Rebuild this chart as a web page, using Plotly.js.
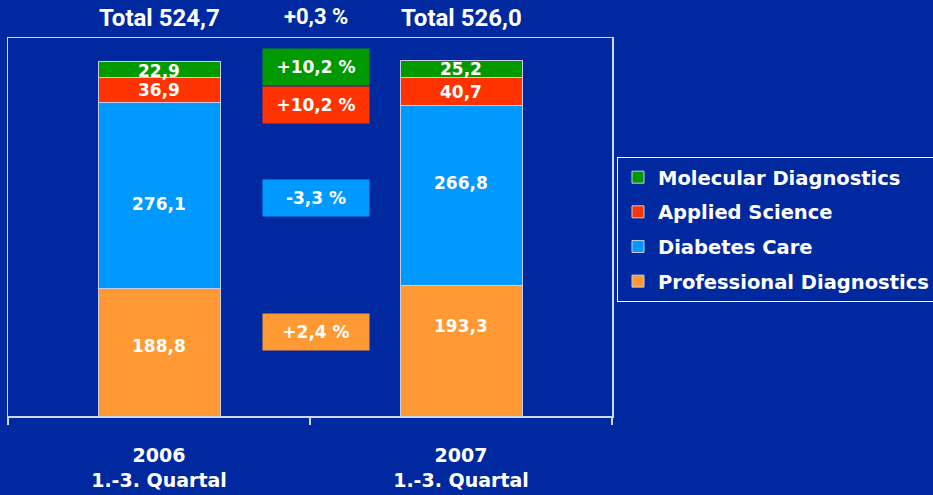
<!DOCTYPE html>
<html>
<head>
<meta charset="utf-8">
<script src="https://cdn.plot.ly/plotly-3.0.1.min.js"></script>
<style>html,body{margin:0;padding:0;background:#0029A0;}#chart{width:933px;height:495px;}</style>
</head>
<body>
<div id="chart"></div>
<script>
// Data
const categories = ['2006', '2007'];
const tickLabels = ['2006<br>1.-3. Quartal', '2007<br>1.-3. Quartal'];
const professionalDiagnostics = [188.8, 193.3];
const diabetesCare = [276.1, 266.8];
const appliedScience = [36.9, 40.7];
const molecularDiagnostics = [22.9, 25.2];
const seriesNames = ['Professional Diagnostics', 'Diabetes Care', 'Applied Science', 'Molecular Diagnostics'];
const seriesColors = ['#FF9933', '#0099FF', '#FF3300', '#009900'];
const changeLabels = ['+2,4 %', '-3,3 %', '+10,2 %', '+10,2 %'];
const totalChangeLabel = '+0,3 %';

const seriesValues = [professionalDiagnostics, diabetesCare, appliedScience, molecularDiagnostics];
const fmt = v => v.toFixed(1).replace('.', ',');
const totals = categories.map((c, i) => seriesValues.reduce((s, arr) => s + arr[i], 0));

const traces = seriesValues.map((vals, k) => ({
  type: 'bar',
  x: categories,
  y: vals,
  name: seriesNames[k],
  legendgroup: 'g' + k,
  legendrank: 10 - k,
  marker: {color: seriesColors[k], line: {color: '#C8CCE8', width: 1}},
  width: 0.404,
  textposition: 'none',
  hoverinfo: 'skip'
}));

const annotations = [];
// value labels inside segments (position from stacked data, small pixel nudges as in the original slide)
const labelShift = [[6, 25], [-9, 12], [0, 0], [-1.5, 0]];
categories.forEach((c, i) => {
  let base = 0;
  seriesValues.forEach((vals, k) => {
    annotations.push({
      xref: 'x', yref: 'y', x: i, y: base + vals[i] / 2, yshift: labelShift[k][i],
      xanchor: 'center', yanchor: 'middle', text: fmt(vals[i]), showarrow: false,
      font: {family: 'DejaVu Sans', size: 17, color: '#FFFFFF', weight: 'bold'}
    });
    base += vals[i];
  });
});

// change boxes
const boxY = [124, 323, 461, 517];
changeLabels.forEach((t, k) => {
  annotations.push({
    xref: 'paper', yref: 'y', x: 0.51, y: boxY[k], xanchor: 'center', yanchor: 'middle',
    text: t, showarrow: false,
    bgcolor: seriesColors[k], width: 106, height: 36, borderpad: 0,
    font: {family: 'DejaVu Sans', size: 17, color: '#FFFFFF', weight: 'bold'}
  });
});
categories.forEach((c, i) => {
  annotations.push({
    xref: 'x', yref: 'paper', x: i, y: 1.053, xanchor: 'center', yanchor: 'middle',
    text: 'Total ' + fmt(totals[i]), showarrow: false,
    font: {family: 'Roboto', size: 24, color: '#FFFFFF', weight: 'bold'}
  });
});
annotations.push({
  xref: 'paper', yref: 'paper', x: 0.51, y: 1.058, xanchor: 'center', yanchor: 'middle',
  text: totalChangeLabel, showarrow: false,
  font: {family: 'Roboto', size: 22, color: '#FFFFFF', weight: 'bold'}
});

const layout = {
  width: 933, height: 495,
  margin: {l: 8, r: 321, t: 38, b: 79},
  paper_bgcolor: '#0029A0', plot_bgcolor: '#0029A0',
  barmode: 'stack',
  separators: ',.',
  showlegend: true,
  legend: {
    xref: 'container', yref: 'container', x: 617 / 933, y: 1 - 157 / 495,
    xanchor: 'left', yanchor: 'top',
    traceorder: 'grouped', tracegroupgap: 6.3,
    bgcolor: 'rgba(0,0,0,0)', bordercolor: '#FFFFFF', borderwidth: 1,
    font: {family: 'DejaVu Sans', size: 19.5, color: '#FFFFFF', weight: 'bold'}
  },
  xaxis: {
    type: 'category', range: [-0.5, 1.5],
    tickvals: categories, ticktext: tickLabels, tickson: 'boundaries',
    ticks: 'outside', ticklen: 7, tickcolor: '#D0D6F0', tickwidth: 1.5,
    showline: true, linecolor: '#D0D6F0', linewidth: 1.5, mirror: true,
    showgrid: false, zeroline: false, ticklabelstandoff: 22,
    tickfont: {family: 'DejaVu Sans', size: 19, color: '#FFFFFF', weight: 'bold'}
  },
  yaxis: {
    range: [0, 560], showticklabels: false, ticks: '', showgrid: false, zeroline: false,
    showline: true, linecolor: '#D0D6F0', linewidth: 1.5, mirror: true
  },
  annotations: annotations
};

Plotly.newPlot('chart', traces, layout, {displayModeBar: false, staticPlot: true});
</script>
</body>
</html>
